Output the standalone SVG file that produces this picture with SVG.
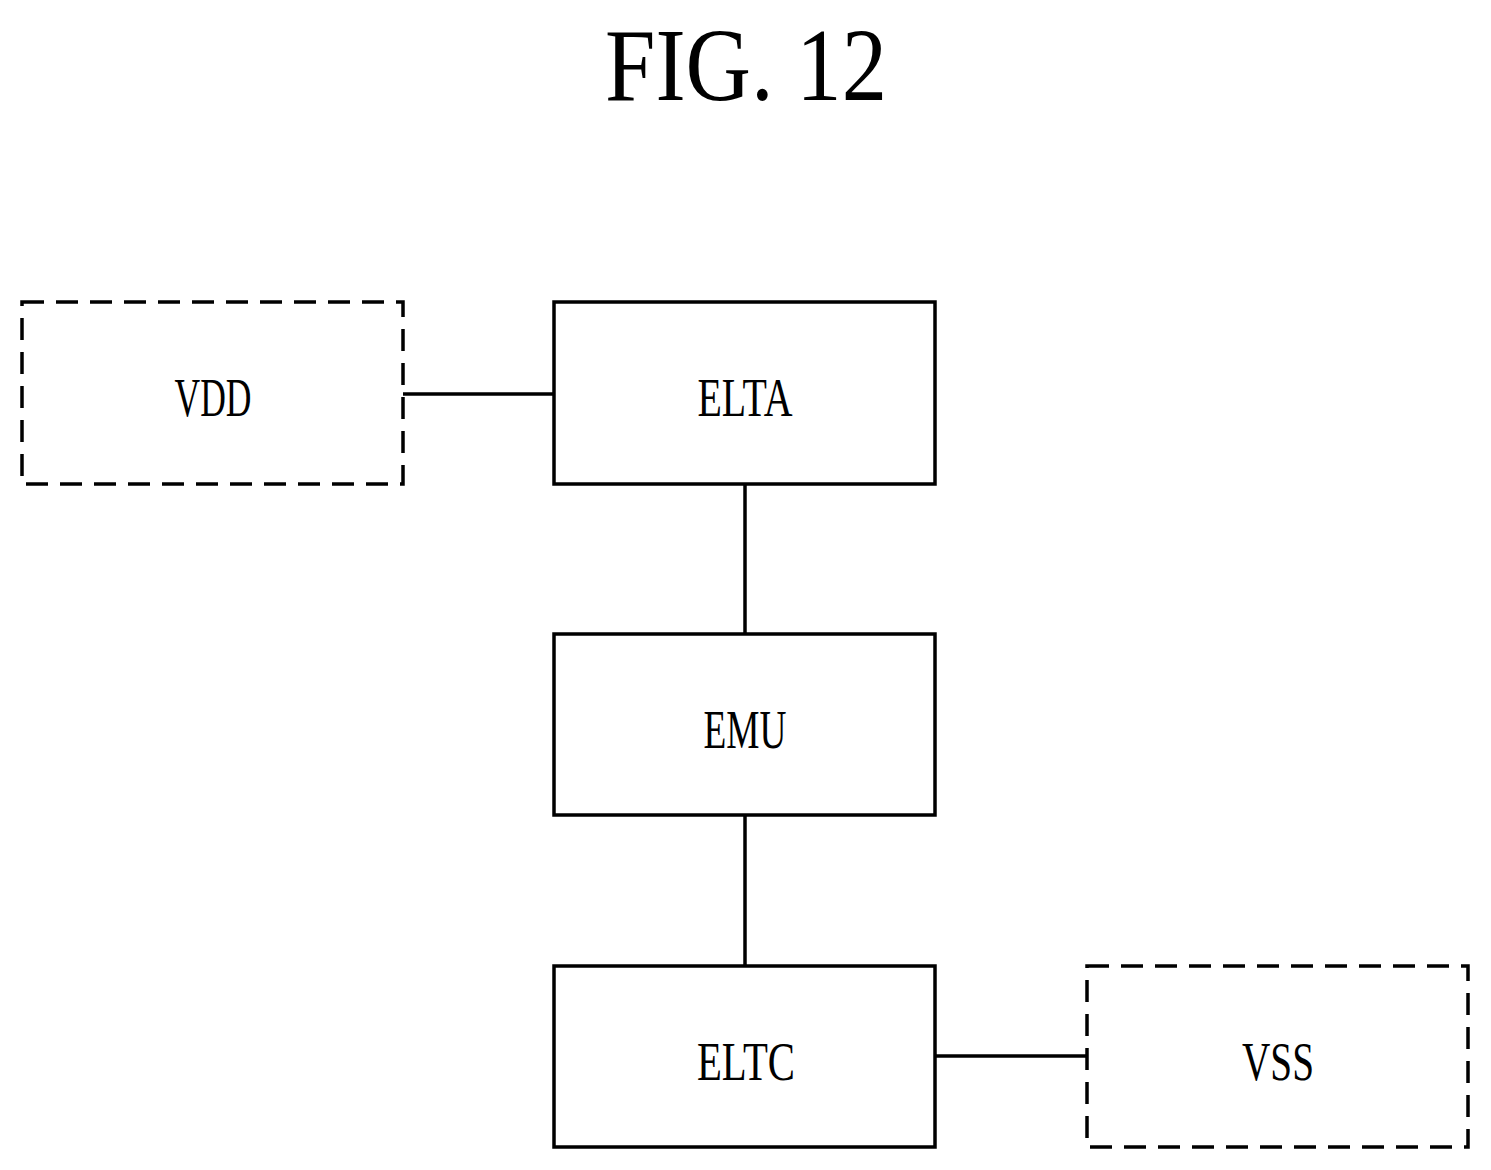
<svg xmlns="http://www.w3.org/2000/svg" width="1491" height="1170" viewBox="0 0 1491 1170">
<style>
.b{fill:none;stroke:#000;stroke-width:3.5}
.d{fill:none;stroke:#000;stroke-width:3.5;stroke-dasharray:22,12}
.t{font-family:"Liberation Serif",serif;font-size:54px;text-anchor:middle}
.c{stroke:#000;stroke-width:3.5;fill:none}
</style>
<rect width="1491" height="1170" fill="#fff"/>
<text x="746" y="100" class="t" style="font-size:104px" textLength="282" lengthAdjust="spacingAndGlyphs">FIG. 12</text>
<g id="vdd"><rect class="d" x="22" y="302" width="381" height="182"/><text class="t" x="213" y="416" textLength="77" lengthAdjust="spacingAndGlyphs">VDD</text></g>
<g id="elta"><rect class="b" x="554" y="302" width="381" height="182"/><text class="t" x="745" y="416" textLength="95" lengthAdjust="spacingAndGlyphs">ELTA</text></g>
<g id="emu"><rect class="b" x="554" y="634" width="381" height="181"/><text class="t" x="745" y="748" textLength="83" lengthAdjust="spacingAndGlyphs">EMU</text></g>
<g id="eltc"><rect class="b" x="554" y="966" width="381" height="181"/><text class="t" x="746" y="1080" textLength="98" lengthAdjust="spacingAndGlyphs">ELTC</text></g>
<g id="vss"><rect class="d" x="1087" y="966" width="381" height="181"/><text class="t" x="1278" y="1080" textLength="72" lengthAdjust="spacingAndGlyphs">VSS</text></g>
<g id="connectors">
<line class="c" x1="403" y1="394" x2="554" y2="394"/>
<line class="c" x1="745" y1="484" x2="745" y2="634"/>
<line class="c" x1="745" y1="815" x2="745" y2="966"/>
<line class="c" x1="935" y1="1056" x2="1087" y2="1056"/>
</g>
</svg>
